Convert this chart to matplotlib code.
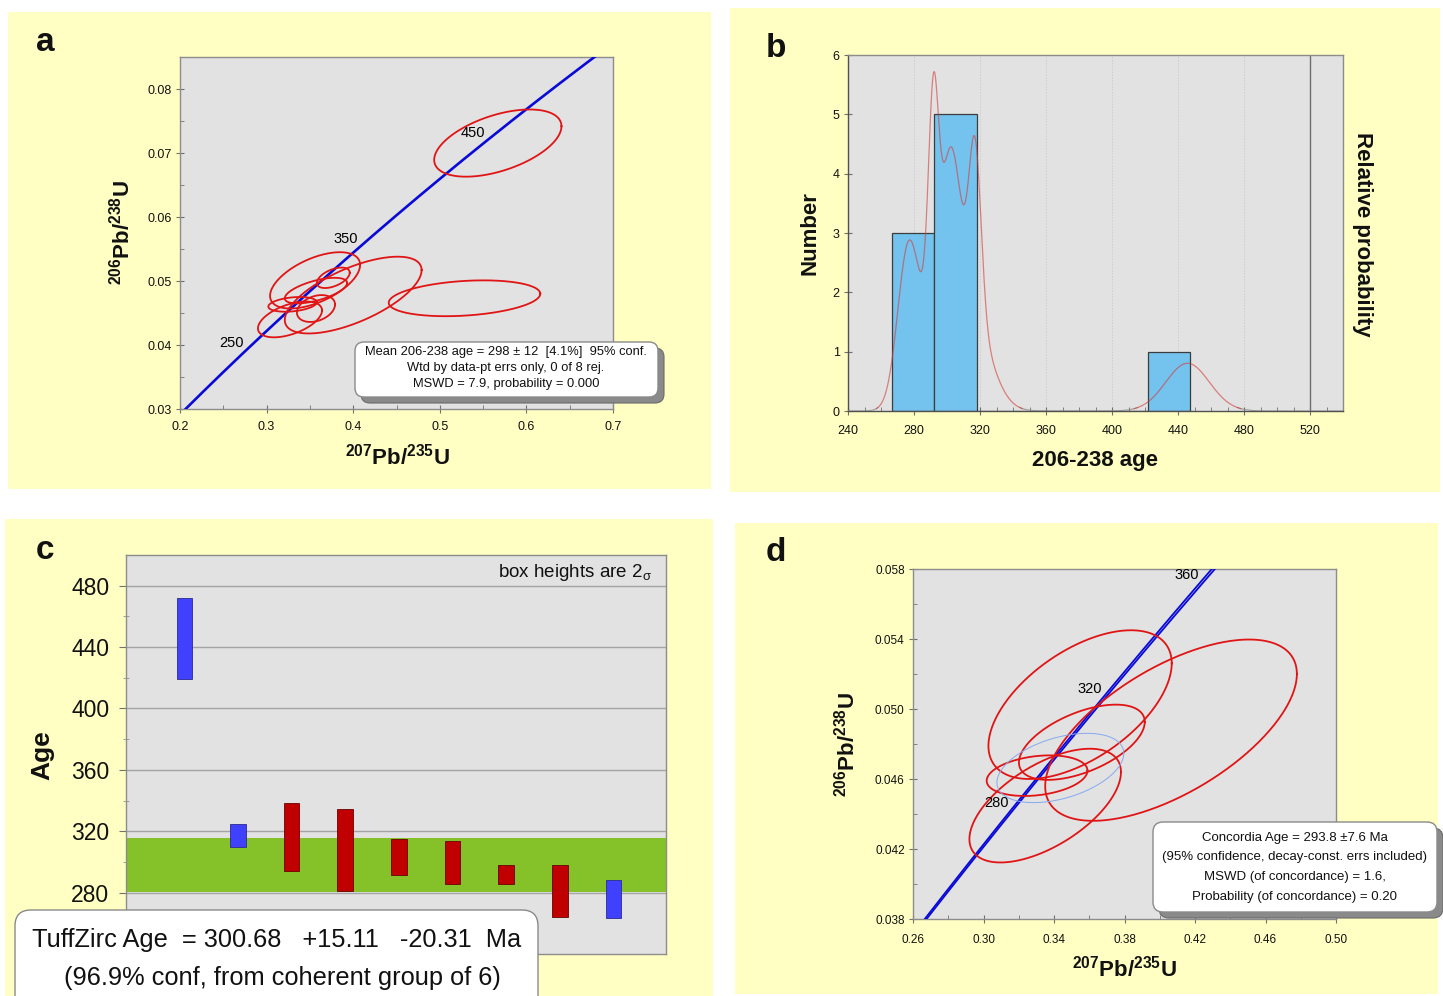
import numpy as np
import matplotlib
matplotlib.use('Agg')
import matplotlib.pyplot as plt
from matplotlib.patches import Rectangle, FancyBboxPatch
from matplotlib.ticker import MultipleLocator, FixedLocator, FormatStrFormatter

plt.rcParams['font.family'] = ['Liberation Sans', 'DejaVu Sans']
plt.rcParams['mathtext.fontset'] = 'custom'
plt.rcParams['mathtext.rm'] = 'Liberation Sans'
plt.rcParams['mathtext.it'] = 'Liberation Sans:italic'
plt.rcParams['mathtext.bf'] = 'Liberation Sans:bold'

# ---------------------------------------------------------------- data
# U decay constants (1/yr)
LAMBDA_238 = 1.55125e-10
LAMBDA_235 = 9.8485e-10
LAMBDA_235_REL_ERR = 0.0017          # band width of the concordia in (d)

# (a) Wetherill ellipses: 207/235 centre, half-extent, 206/238 centre, half-extent, rho
a_r75 = [0.567, 0.5285, 0.356, 0.400, 0.377, 0.357, 0.330, 0.357, 0.327]
a_r75_err = [0.0735, 0.0875, 0.052, 0.079, 0.019, 0.036, 0.028, 0.022, 0.037]
a_r68 = [0.07155, 0.0473, 0.0501, 0.0478, 0.0505, 0.0485, 0.04635, 0.0457, 0.0440]
a_r68_err = [0.00525, 0.0028, 0.0044, 0.0060, 0.0016, 0.0020, 0.00115, 0.0021, 0.0028]
a_rho = [0.50, 0.25, 0.55, 0.65, 0.50, 0.60, 0.30, 0.30, 0.50]
a_age_marks = [250, 350, 450]

# (c) 206-238 ages with 2-sigma half heights
c_age = [445.8, 317.0, 316.1, 307.6, 303.0, 299.6, 291.7, 281.2, 275.8]
c_half = [26.4, 7.4, 22.2, 26.7, 11.7, 14.0, 6.1, 17.0, 12.2]
c_rejected = [True, True, False, False, False, False, False, False, True]
tuffzirc_age = 300.68
tuffzirc_plus = 15.11
tuffzirc_minus = 20.31

# (b) histogram bins and probability-curve peak height
b_bin_start = 266.5
b_bin_width = 25.85
b_bin_count = 7
b_pdp_peak = 5.72

# (d) concordia-age ellipses
d_r75 = [0.3548, 0.4064, 0.3558, 0.3304, 0.335]
d_r75_err = [0.052, 0.0714, 0.0357, 0.0286, 0.043]
d_r68 = [0.05025, 0.04879, 0.0481, 0.04619, 0.04448]
d_r68_err = [0.00425, 0.00518, 0.00215, 0.00116, 0.00325]
d_rho = [0.555, 0.62, 0.54, 0.25, 0.59]
d_mean = (0.3436, 0.036, 0.04663, 0.00198, 0.42)
d_age_marks = [280, 320, 360]

# ---------------------------------------------------------------- helpers
W, H = 1443, 996
YELLOW = '#FFFFC3'
PLOTBG = '#E2E2E2'
RED = '#E01414'
BLUE = '#0A0AD8'


def ellipse(cx, hx, cy, hy, rho, n=300):
    t = np.linspace(0, 2 * np.pi, n)
    x = cx + hx * np.cos(t)
    y = cy + hy * (rho * np.cos(t) + np.sqrt(1 - rho ** 2) * np.sin(t))
    return x, y


def concordia(t_ma, l235=LAMBDA_235):
    t = np.asarray(t_ma) * 1e6
    return np.exp(l235 * t) - 1, np.exp(LAMBDA_238 * t) - 1


def add_ax(l, t, r, b, z=2):
    ax = fig.add_axes([l / W, 1 - b / H, (r - l) / W, (b - t) / H], zorder=z)
    ax.set_facecolor(PLOTBG)
    for s in ax.spines.values():
        s.set_color('#8c8c8c')
        s.set_linewidth(1.0)
    return ax


fig = plt.figure(figsize=(W / 100, H / 100), dpi=100)
fig.patch.set_facecolor('white')

bg = fig.add_axes([0, 0, 1, 1], zorder=0)
bg.set_xlim(0, W)
bg.set_ylim(H, 0)
bg.axis('off')
for (l, t, r, b) in [(8, 12, 711, 489), (730, 8, 1440, 492),
                     (5, 519, 713, 1000), (735, 523, 1438, 994)]:
    bg.add_patch(Rectangle((l, t), r - l, b - t, facecolor=YELLOW, edgecolor='none'))

ov = fig.add_axes([0, 0, 1, 1], zorder=20)
ov.set_xlim(0, W)
ov.set_ylim(H, 0)
ov.axis('off')
ov.patch.set_visible(False)


def text_box(l, t, r, b, rad, shadow=True):
    if shadow:
        ov.add_patch(FancyBboxPatch((l + 6, t + 6), r - l, b - t,
                                    boxstyle=f'round,pad=0,rounding_size={rad}',
                                    facecolor='#8a8a8a', edgecolor='#6a6a6a', lw=0.8))
    ov.add_patch(FancyBboxPatch((l, t), r - l, b - t,
                                boxstyle=f'round,pad=0,rounding_size={rad}',
                                facecolor='white', edgecolor='#8a8a8a', lw=1.0))


def style_ticks(ax, size, xpad=3, ypad=3, color='#707070'):
    ax.tick_params(which='major', direction='inout', length=6, color=color,
                   labelsize=size, labelcolor='#111111')
    ax.tick_params(axis='x', which='major', pad=xpad)
    ax.tick_params(axis='y', which='major', pad=ypad)
    ax.tick_params(which='minor', direction='in', length=3, color=color)


# ---------------------------------------------------------------- panel a
ax_a = add_ax(180, 57, 613, 409)
ax_a.set_xlim(0.2, 0.7)
ax_a.set_ylim(0.03, 0.085)
ax_a.xaxis.set_major_locator(FixedLocator([0.2, 0.3, 0.4, 0.5, 0.6, 0.7]))
ax_a.xaxis.set_minor_locator(MultipleLocator(0.05))
ax_a.xaxis.set_major_formatter(FormatStrFormatter('%.1f'))
ax_a.yaxis.set_major_locator(FixedLocator([0.03, 0.04, 0.05, 0.06, 0.07, 0.08]))
ax_a.yaxis.set_minor_locator(MultipleLocator(0.005))
ax_a.yaxis.set_major_formatter(FormatStrFormatter('%.2f'))
style_ticks(ax_a, 9, xpad=6)

tt = np.linspace(150, 620, 500)
cx, cy = concordia(tt)
ax_a.plot(cx, cy, color=BLUE, lw=1.9, zorder=3)
for i in range(len(a_r75)):
    ex, ey = ellipse(a_r75[i], a_r75_err[i], a_r68[i], a_r68_err[i], a_rho[i])
    ax_a.plot(ex, ey, color=RED, lw=1.3, zorder=4)
for age in a_age_marks:
    px, py = concordia(age)
    ax_a.annotate(str(age), xy=(px, py), xytext=(-17, 5), textcoords='offset pixels',
                  ha='center', va='center', fontsize=10.5, zorder=5)

# ---------------------------------------------------------------- panel b
ax_b = add_ax(848, 55, 1343, 411)
ax_b.set_xlim(240, 540)
ax_b.set_ylim(0, 6)
ax_b.xaxis.set_major_locator(FixedLocator(np.arange(240, 521, 40)))
ax_b.xaxis.set_minor_locator(MultipleLocator(10))
ax_b.yaxis.set_major_locator(MultipleLocator(1))
style_ticks(ax_b, 9, xpad=7)
ax_b.spines['left'].set_color('#505050')
ax_b.spines['bottom'].set_color('#505050')
for g in range(280, 481, 40):
    ax_b.axvline(g, color='#cdcdcd', lw=0.7, ls=(0, (1.5, 1.5)), zorder=1)
ax_b.axvline(520, color='#6e6e6e', lw=1.0, zorder=1)

edges = b_bin_start + b_bin_width * np.arange(b_bin_count + 1)
ax_b.hist(c_age, bins=edges, color='#74C3EE', edgecolor='#3c3c3c', lw=0.9, zorder=2)

grid_t = np.linspace(240, 540, 2000)
sig = np.array(c_half) / 2.0
pdp = np.zeros_like(grid_t)
for mu, s in zip(c_age, sig):
    pdp += np.exp(-0.5 * ((grid_t - mu) / s) ** 2) / (s * np.sqrt(2 * np.pi))
pdp *= b_pdp_peak / pdp.max()
ax_b.plot(grid_t, np.where(pdp < 0.06, pdp, np.nan), color='#8a8a8a', lw=0.8,
          alpha=0.8, zorder=3)
ax_b.plot(grid_t, np.where(pdp >= 0.04, pdp, np.nan), color='#d23c3c', lw=0.9,
          alpha=0.6, zorder=3)

# ---------------------------------------------------------------- panel c
ax_c = add_ax(126, 555, 666, 954)
ax_c.set_xlim(-0.087, 9.98)
ax_c.set_ylim(240, 500)
ax_c.xaxis.set_visible(False)
ax_c.yaxis.set_major_locator(FixedLocator(np.arange(280, 481, 40)))
ax_c.yaxis.set_minor_locator(FixedLocator(np.arange(260, 481, 40)))
ax_c.tick_params(which='major', direction='out', length=5, color='#707070',
                 labelsize=16.5, labelcolor='#111111', pad=7)
ax_c.tick_params(which='minor', direction='inout', length=5, color='#909090')
for g in np.arange(280, 481, 40):
    ax_c.axhline(g, color='#a4a4a4', lw=1.0, zorder=1)
ax_c.axhspan(tuffzirc_age - tuffzirc_minus, tuffzirc_age + tuffzirc_plus,
             color='#85C128', zorder=2, lw=0)
xpos = np.arange(1, len(c_age) + 1)
for x, a, h, rej in zip(xpos, c_age, c_half, c_rejected):
    fc = '#4040FF' if rej else '#C00000'
    ec = '#2a2a90' if rej else '#6a0000'
    ax_c.bar(x, 2 * h, bottom=a - h, width=0.29, color=fc, edgecolor=ec, lw=0.6, zorder=3)
ov.text(652, 572, r'box heights are 2$_{\mathregular{σ}}$', ha='right', va='center',
        fontsize=13.5, color='#111111')

# ---------------------------------------------------------------- panel d
ax_d = add_ax(913, 569, 1336, 919)
ax_d.set_xlim(0.26, 0.50)
ax_d.set_ylim(0.038, 0.058)
ax_d.xaxis.set_major_locator(FixedLocator(np.arange(0.26, 0.501, 0.04)))
ax_d.xaxis.set_minor_locator(MultipleLocator(0.02))
ax_d.xaxis.set_major_formatter(FormatStrFormatter('%.2f'))
ax_d.yaxis.set_major_locator(FixedLocator(np.arange(0.038, 0.0581, 0.004)))
ax_d.yaxis.set_minor_locator(MultipleLocator(0.002))
ax_d.yaxis.set_major_formatter(FormatStrFormatter('%.3f'))
style_ticks(ax_d, 8.5, xpad=8)

tt = np.linspace(200, 420, 500)
for k in (-1, 1):
    cx, cy = concordia(tt, LAMBDA_235 * (1 + k * LAMBDA_235_REL_ERR))
    ax_d.plot(cx, cy, color=BLUE, lw=1.3, zorder=3)
for i in range(len(d_r75)):
    ex, ey = ellipse(d_r75[i], d_r75_err[i], d_r68[i], d_r68_err[i], d_rho[i])
    ax_d.plot(ex, ey, color=RED, lw=1.3, zorder=4)
ex, ey = ellipse(*d_mean)
ax_d.plot(ex, ey, color='#86a8f0', lw=0.7, zorder=4)
for age in d_age_marks:
    px, py = concordia(age)
    ax_d.annotate(str(age), xy=(px, py), xytext=(-18, 4), textcoords='offset pixels',
                  ha='center', va='center', fontsize=10.5, zorder=5)

# ---------------------------------------------------------------- labels & boxes
bold_lab = dict(fontsize=16, fontweight='bold', ha='center', va='center', color='#111111')
ov.text(397, 457, r'$\mathbf{^{207}Pb/^{235}U}$', **bold_lab)
ov.text(122, 233, r'$\mathbf{^{206}Pb/^{238}U}$', rotation=90, **bold_lab)
ov.text(1095, 460, '206-238 age', **bold_lab)
ov.text(810, 233, 'Number', rotation=90, **bold_lab)
ov.text(1362, 234, 'Relative probability', rotation=-90, **bold_lab)
ov.text(42, 755, 'Age', rotation=90, fontsize=19, fontweight='bold',
        ha='center', va='center', color='#111111')
ov.text(1124, 969, r'$\mathbf{^{207}Pb/^{235}U}$', **bold_lab)
ov.text(847, 745, r'$\mathbf{^{206}Pb/^{238}U}$', rotation=90, **bold_lab)

for lett, x, y in [('a', 45, 42), ('b', 776, 48), ('c', 45, 550), ('d', 776, 552)]:
    ov.text(x, y, lett, fontsize=24, fontweight='bold', ha='center', va='center',
            color='#111111')

text_box(355, 342, 658, 397, 9)
for y, s in zip([352, 368, 384],
                ['Mean 206-238 age = 298 ± 12  [4.1%]  95% conf.',
                 'Wtd by data-pt errs only, 0 of 8 rej.',
                 'MSWD = 7.9, probability = 0.000']):
    ov.text(506, y, s, fontsize=9.3, ha='center', va='center', color='#111111')

text_box(1153, 822, 1437, 912, 10)
for y, s in zip([838, 857, 877, 897],
                ['Concordia Age = 293.8 ±7.6 Ma',
                 '(95% confidence, decay-const. errs included)',
                 'MSWD (of concordance) = 1.6,',
                 'Probability (of concordance) = 0.20']):
    ov.text(1295, y, s, fontsize=9.5, ha='center', va='center', color='#111111')

text_box(15, 910, 538, 1030, 16, shadow=False)
ov.text(277, 940,
        f'TuffZirc Age  = {tuffzirc_age:.2f}   +{tuffzirc_plus:.2f}   -{tuffzirc_minus:.2f}  Ma',
        fontsize=18.3, ha='center', va='center', color='#111111')
ov.text(282, 978, '(96.9% conf, from coherent group of 6)', fontsize=18.3,
        ha='center', va='center', color='#111111')

fig.savefig('out.png', dpi=100, facecolor='white')
